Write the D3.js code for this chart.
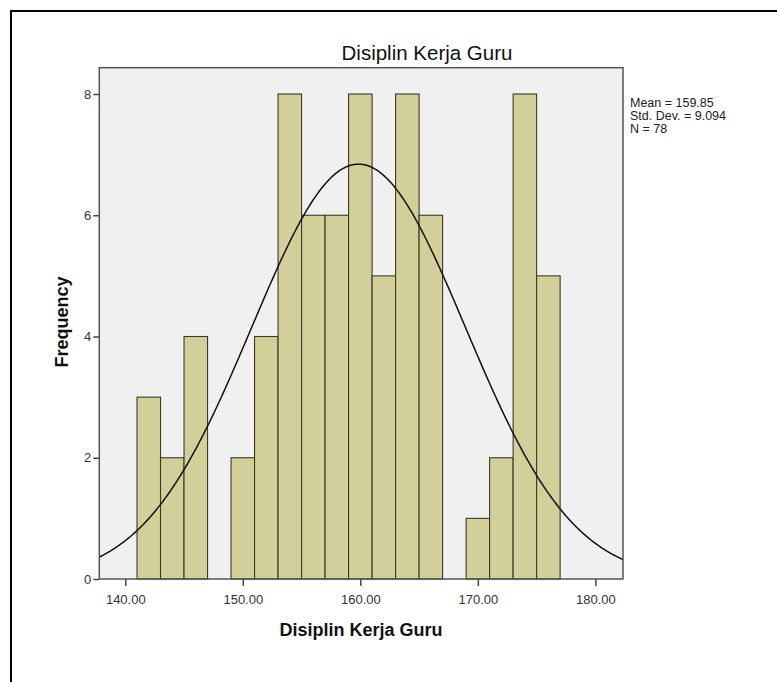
<!DOCTYPE html>
<html><head><meta charset="utf-8">
<script src="https://cdn.jsdelivr.net/npm/d3@7"></script>
<style>body{margin:0;background:#fff}svg{display:block}</style>
</head><body>
<svg id="c" width="777" height="682"></svg>
<script>
const binStarts = [141,143,145,147,149,151,153,155,157,159,161,163,165,167,169,171,173,175];
const counts    = [3,2,4,0,2,4,8,6,6,8,5,8,6,0,1,2,8,5];
const binWidth = 2;
const xTicks = [140,150,160,170,180];
const yTicks = [0,2,4,6,8];
const stats = {mean:159.85, sd:9.094, n:78};
const title = "Disiplin Kerja Guru";
const xLabel = "Disiplin Kerja Guru";
const yLabel = "Frequency";

const svg = d3.select("#c");
const L=99.3, R=623, T=67.7, B=579;
const x = d3.scaleLinear().domain([137.79,182.35]).range([L,R]);
const y = d3.scaleLinear().domain([0,8]).range([B,94]);
const FF = "Liberation Sans, Arial, sans-serif";

// outer border
svg.append("rect").attr("x",11).attr("y",11).attr("width",800).attr("height",700)
  .attr("fill","none").attr("stroke","#000").attr("stroke-width",2);

// plot background
svg.append("rect").attr("x",L).attr("y",T).attr("width",R-L).attr("height",B-T)
  .attr("fill","#f0f0f0");

svg.append("clipPath").attr("id","pc").append("rect")
  .attr("x",L).attr("y",T).attr("width",R-L).attr("height",B-T);

// bars
svg.append("g").selectAll("rect").data(binStarts.map((s,i)=>({s,c:counts[i]})).filter(d=>d.c>0))
  .join("rect")
  .attr("x",d=>x(d.s)).attr("width",d=>x(d.s+binWidth)-x(d.s))
  .attr("y",d=>y(d.c)).attr("height",d=>y(0)-y(d.c))
  .attr("fill","#d3cf98").attr("stroke","#3a3a2a").attr("stroke-width",1.1);

// normal curve
const k = stats.n*binWidth/(stats.sd*Math.sqrt(2*Math.PI));
const pts = d3.range(0,301).map(i=>{const v=137.79+(182.35-137.79)*i/300; return [v, k*Math.exp(-0.5*((v-stats.mean)/stats.sd)**2)];});
svg.append("path").datum(pts).attr("clip-path","url(#pc)")
  .attr("d",d3.line().x(d=>x(d[0])).y(d=>y(d[1])).curve(d3.curveBasis))
  .attr("fill","none").attr("stroke","#111").attr("stroke-width",1.5);

// frame
svg.append("rect").attr("x",L).attr("y",T).attr("width",R-L).attr("height",B-T)
  .attr("fill","none").attr("stroke","#555").attr("stroke-width",1.5);

// axes
const xa = svg.append("g").attr("transform",`translate(0,${B})`)
  .call(d3.axisBottom(x).tickValues(xTicks).tickFormat(d3.format(".2f")).tickSize(7).tickSizeOuter(0));
const ya = svg.append("g").attr("transform",`translate(${L},0)`)
  .call(d3.axisLeft(y).tickValues(yTicks).tickFormat(d3.format("d")).tickSize(6).tickSizeOuter(0));
[xa,ya].forEach(a=>{
  a.select(".domain").remove();
  a.selectAll(".tick line").attr("stroke","#444").attr("stroke-width",1.5);
  a.selectAll(".tick text").attr("fill","#333").attr("font-family",FF).attr("font-size",13);
});
xa.selectAll(".tick text").attr("dy","0").attr("y",25);
ya.selectAll(".tick text").attr("x",-8);

// titles
svg.append("text").attr("x",427).attr("y",60).attr("text-anchor","middle")
  .attr("font-family",FF).attr("font-size",20.5).attr("fill","#111").text(title);
svg.append("text").attr("x",361).attr("y",636).attr("text-anchor","middle")
  .attr("font-family",FF).attr("font-weight","bold").attr("font-size",18).attr("fill","#111").text(xLabel);
svg.append("text").attr("transform","translate(68,322) rotate(-90)").attr("text-anchor","middle")
  .attr("font-family",FF).attr("font-weight","bold").attr("font-size",18).attr("fill","#111").text(yLabel);

// stats
const st = ["Mean = "+stats.mean.toFixed(2),"Std. Dev. = "+stats.sd.toFixed(3),"N = "+stats.n];
svg.append("g").selectAll("text").data(st).join("text")
  .attr("x",630).attr("y",(d,i)=>107+i*13)
  .attr("font-family",FF).attr("font-size",12.5).attr("fill","#222").text(d=>d);
</script>
</body></html>
